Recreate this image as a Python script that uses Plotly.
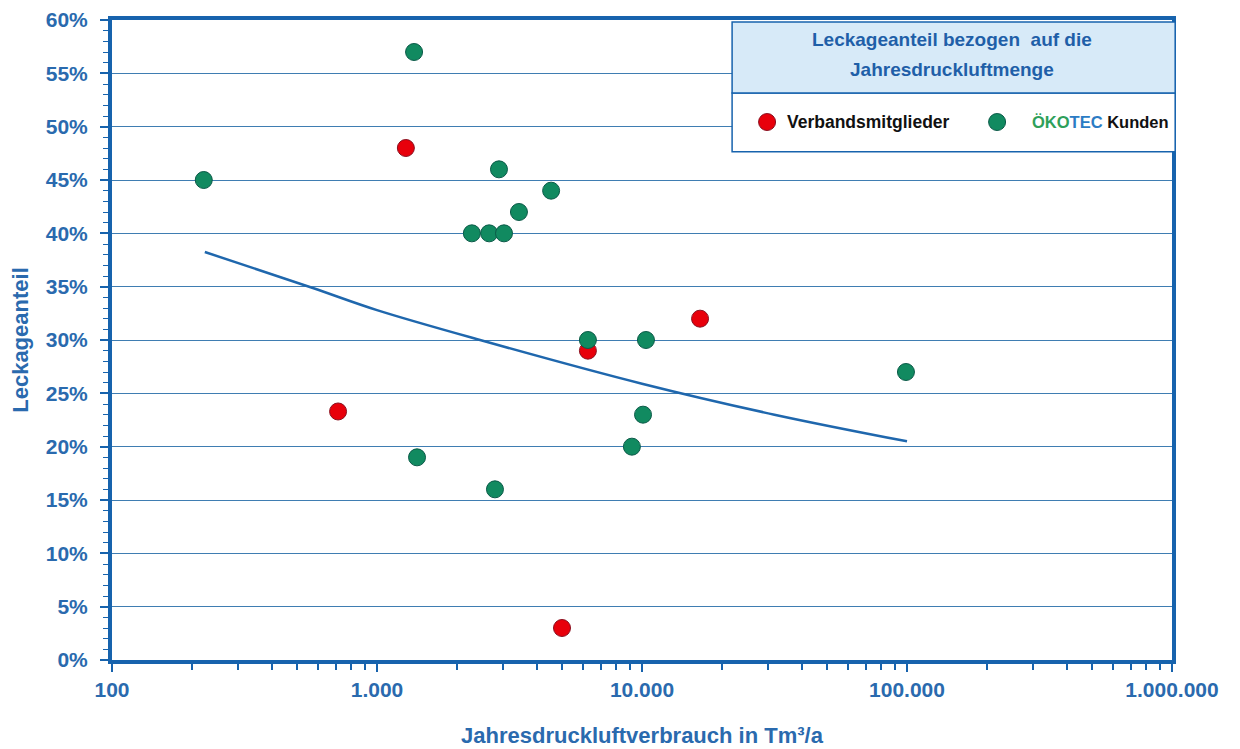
import plotly.graph_objects as go

# Data (x in Tm³/a, y as fraction)
verband_x = [1285, 713, 6250, 16560, 4990]
verband_y = [0.48, 0.233, 0.29, 0.32, 0.03]

oekotec_x = [222, 1380, 1416, 2280, 2650, 3015, 2886, 3433, 4540, 2787, 6250, 10350, 10090, 9160, 99100]
oekotec_y = [0.45, 0.57, 0.19, 0.40, 0.40, 0.40, 0.46, 0.42, 0.44, 0.16, 0.30, 0.30, 0.23, 0.20, 0.27]

trend_x = [224, 569, 1000, 2449, 10000, 31600, 100000]
trend_y = [0.3825, 0.349, 0.328, 0.300, 0.259, 0.230, 0.205]

x_tickvals = [100, 1000, 10000, 100000, 1000000]
x_ticktext = ["100", "1.000", "10.000", "100.000", "1.000.000"]
y_tickvals = [0, 0.05, 0.10, 0.15, 0.20, 0.25, 0.30, 0.35, 0.40, 0.45, 0.50, 0.55, 0.60]
y_ticktext = ["0%", "5%", "10%", "15%", "20%", "25%", "30%", "35%", "40%", "45%", "50%", "55%", "60%"]
x_minor = [m * 10 ** e for e in range(2, 6) for m in range(2, 10)]

AXIS = "#1763ad"
TXT = "#2a6aae"
FONT = "Liberation Sans, Arial, sans-serif"
RED, RED_EDGE = "#e8000b", "#8a1020"
GREEN, GREEN_EDGE = "#118a60", "#0b5a48"

fig = go.Figure()

fig.add_trace(go.Scatter(
    x=trend_x, y=trend_y, mode="lines", line=dict(color="#1f67ad", width=2.5, shape="spline"),
    showlegend=False, hoverinfo="skip"))

fig.add_trace(go.Scatter(
    x=verband_x, y=verband_y, mode="markers", name="Verbandsmitglieder", showlegend=False,
    marker=dict(size=17, color=RED, line=dict(color=RED_EDGE, width=1))))

fig.add_trace(go.Scatter(
    x=oekotec_x, y=oekotec_y, mode="markers", name="ÖKOTEC Kunden", showlegend=False,
    marker=dict(size=17, color=GREEN, line=dict(color=GREEN_EDGE, width=1))))

# legend box
fig.add_shape(type="rect", xref="paper", yref="paper", x0=0.585, x1=1.003, y0=0.794, y1=0.886,
              fillcolor="white", line=dict(color=AXIS, width=1.5), layer="above")
fig.add_shape(type="rect", xref="paper", yref="paper", x0=0.585, x1=1.003, y0=0.886, y1=0.997,
              fillcolor="#d7eaf8", line=dict(color=AXIS, width=1.5), layer="above")

fig.add_annotation(xref="paper", yref="paper", x=0.7925, y=0.969, xanchor="center", yanchor="middle",
                   text="Leckageanteil bezogen  auf die", showarrow=False,
                   font=dict(family=FONT, size=19, color="#1f5fa8", weight="bold"))
fig.add_annotation(xref="paper", yref="paper", x=0.7925, y=0.922, xanchor="center", yanchor="middle",
                   text="Jahresdruckluftmenge", showarrow=False,
                   font=dict(family=FONT, size=19, color="#1f5fa8", weight="bold"))

# legend entries
for xc, fill, edge in [(0.618, RED, RED_EDGE), (0.835, GREEN, GREEN_EDGE)]:
    fig.add_shape(type="circle", xref="paper", yref="paper", xsizemode="pixel", ysizemode="pixel",
                  xanchor=xc, yanchor=0.8406, x0=-8.5, x1=8.5, y0=-8.5, y1=8.5,
                  fillcolor=fill, line=dict(color=edge, width=1), layer="above")
fig.add_annotation(xref="paper", yref="paper", x=0.635, y=0.8406, xanchor="left", yanchor="middle",
                   text="Verbandsmitglieder", showarrow=False,
                   font=dict(family=FONT, size=17.5, color="#111111", weight="bold"))
fig.add_annotation(xref="paper", yref="paper", x=0.866, y=0.8406, xanchor="left", yanchor="middle",
                   text='<span style="color:#2ea05a">ÖKO</span><span style="color:#2b7cc4">TEC</span> Kunden',
                   showarrow=False,
                   font=dict(family=FONT, size=16.5, color="#111111", weight="bold"))

fig.update_layout(
    width=1232, height=741,
    margin=dict(l=104, r=68, t=12, b=89),
    paper_bgcolor="white", plot_bgcolor="white",
    font=dict(family=FONT, color=TXT, weight="bold"),
    showlegend=False,
    xaxis=dict(
        type="log", range=[2, 6], automargin=False,
        tickmode="array", tickvals=x_tickvals, ticktext=x_ticktext,
        tickfont=dict(family=FONT, size=21, color=TXT, weight="bold"),
        ticks="outside", ticklen=8, tickwidth=1.5, tickcolor=AXIS, ticklabelstandoff=0,
        showgrid=False, zeroline=False,
        showline=True, linecolor=AXIS, linewidth=4, mirror=True,
        minor=dict(tickmode="array", tickvals=x_minor, ticks="outside", ticklen=6, tickwidth=1.5,
                   tickcolor=AXIS, showgrid=False),
        title=dict(text="Jahresdruckluftverbrauch in Tm³/a", standoff=28,
                   font=dict(family=FONT, size=22, color=TXT, weight="bold")),
    ),
    yaxis=dict(
        range=[0, 0.6], automargin=False,
        tickmode="array", tickvals=y_tickvals, ticktext=y_ticktext,
        tickfont=dict(family=FONT, size=21, color=TXT, weight="bold"),
        ticks="outside", ticklen=8, tickwidth=1.5, tickcolor=AXIS, ticklabelstandoff=8,
        showgrid=True, gridcolor="#3f7db2", gridwidth=1.2, zeroline=False,
        showline=True, linecolor=AXIS, linewidth=4, mirror=True,
        minor=dict(dtick=0.01, ticks="outside", ticklen=5, tickwidth=1.2, tickcolor=AXIS, showgrid=False),
        title=dict(text="Leckageanteil", standoff=14,
                   font=dict(family=FONT, size=22, color=TXT, weight="bold")),
    ),
)

fig.write_html("out.html")
